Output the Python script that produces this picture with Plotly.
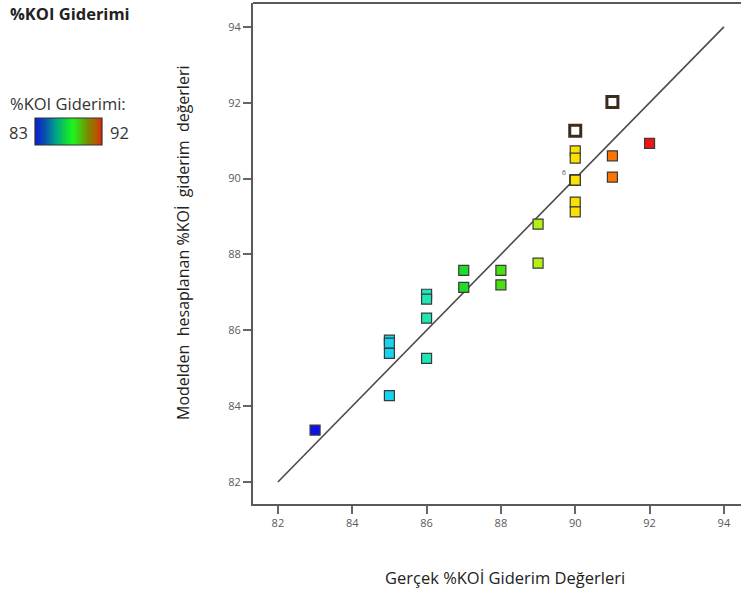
import plotly.graph_objects as go

# ---- data ----
actual = [83,
          85, 85, 85, 85,
          86, 86, 86, 86,
          87, 87,
          88, 88,
          89, 89,
          90, 90, 90, 90, 90, 90, 90, 90, 90, 90,
          91, 91,
          92]
predicted = [83.37,
             85.74, 85.66, 85.39, 84.28,
             86.95, 86.82, 86.32, 85.26,
             87.58, 87.13,
             87.58, 87.20,
             88.80, 87.77,
             90.73, 90.54, 89.96, 89.96, 89.96, 89.96, 89.96, 89.96, 89.38, 89.12,
             90.60, 90.04,
             90.93]
color_levels = [83, 85, 86, 87, 88, 89, 90, 91, 92]
level_colors = ["#0a14e6", "#14d4f0", "#1ee6b4", "#1edc28", "#46e014",
                "#b4f014", "#fae100", "#ff7300", "#f01414"]

open_actual = [90, 91]
open_predicted = [91.26, 92.02]

ref_line = [82, 94]
x_ticks = [82, 84, 86, 88, 90, 92, 94]
y_ticks = [82, 84, 86, 88, 90, 92, 94]
cbar_min, cbar_max = 83, 92
cbar_levels = [83, 84, 85, 86, 87, 88, 89, 90, 91, 92]

replicate_x, replicate_y, replicate_label = 90, 89.96, "6"

# ---- figure ----
W, H = 741, 595
font = "Open Sans, Noto Sans, sans-serif"


def px_x(p):
    return p / W


def px_y(p):
    return 1 - p / H


cmap = dict(zip(color_levels, level_colors))
colors = [cmap[a] for a in actual]

fig = go.Figure()
fig.add_trace(go.Scatter(x=ref_line, y=ref_line, mode="lines",
                         line=dict(color="#4a4a4a", width=1.6),
                         hoverinfo="skip", showlegend=False))
fig.add_trace(go.Scatter(x=actual, y=predicted, mode="markers",
                         marker=dict(symbol="square", size=10, color=colors,
                                     line=dict(color="#3a3a3a", width=1.2)),
                         showlegend=False))
fig.add_trace(go.Scatter(x=open_actual, y=open_predicted, mode="markers",
                         marker=dict(symbol="square-open", size=11,
                                     color="#3b2c1e",
                                     line=dict(color="#3b2c1e", width=3)),
                         showlegend=False))
# colour bar drawn as a smooth heatmap on its own small axes
fig.add_trace(go.Heatmap(z=[cbar_levels], x=list(range(len(cbar_levels))), y=[0],
                         zmin=cbar_min, zmax=cbar_max, zsmooth="best", showscale=False,
                         colorscale=[[0.0, "#0a1ed2"], [0.12, "#0a46b4"],
                                     [0.3, "#00a08c"], [0.5, "#14e628"],
                                     [0.56, "#1ef51e"], [0.78, "#788c00"],
                                     [0.9, "#b45a00"], [1.0, "#e61e0a"]],
                         xaxis="x2", yaxis="y2", hoverinfo="skip"))

axis_common = dict(ticks="outside", ticklen=8, tickcolor="#666666", tickwidth=1.5,
                   showline=True, linecolor="#5a5a5a", linewidth=2, showgrid=False,
                   zeroline=False, automargin=False,
                   tickfont=dict(size=11, color="#5a5a5a", family=font))

fig.update_layout(
    width=W, height=H,
    margin=dict(l=0, r=0, t=0, b=0),
    paper_bgcolor="white", plot_bgcolor="white",
    font=dict(family=font, color="#333333"),
    xaxis=dict(range=[81.33, 94.46], tickvals=x_ticks,
               domain=[px_x(253), 1], **axis_common),
    yaxis=dict(range=[81.42, 94.63], tickvals=y_ticks,
               domain=[px_y(504), px_y(3)], **axis_common),
    xaxis2=dict(domain=[px_x(35), px_x(102)], range=[0, len(cbar_levels) - 1],
                visible=False, anchor="y2", fixedrange=True),
    yaxis2=dict(domain=[px_y(145), px_y(118)], range=[-0.5, 0.5],
                visible=False, anchor="x2", fixedrange=True),
    shapes=[dict(type="line", xref="paper", yref="paper", x0=px_x(253), x1=1,
                 y0=px_y(3), y1=px_y(3), line=dict(color="#5a5a5a", width=2)),
            dict(type="rect", xref="paper", yref="paper", x0=px_x(35), x1=px_x(102),
                 y0=px_y(145), y1=px_y(118), line=dict(color="#333333", width=1.2))],
)


def txt(text, x, y, size, xanchor="left", color="#333333", angle=0):
    return dict(text=text, xref="paper", yref="paper", x=px_x(x), y=px_y(y),
                xanchor=xanchor, yanchor="middle", textangle=angle, showarrow=False,
                font=dict(size=size, color=color, family=font))


ann = [
    txt("<b>%KOI Giderimi</b>", 8, 13, 16.5, color="#222222"),
    txt("%KOI Giderimi:", 8, 103, 16.5),
    txt(str(cbar_min), 7, 132, 16.5),
    txt(str(cbar_max), 108, 132, 16.5),
    txt("Gerçek %KOİ Giderim Değerleri", 505, 577, 16.5, xanchor="center", color="#222222"),
    txt("Modelden\u00a0 hesaplanan %KOİ\u00a0 giderim\u00a0 değerleri", 183, 243, 16,
        xanchor="center", color="#222222", angle=-90),
    dict(text=replicate_label, x=replicate_x, y=replicate_y, xref="x", yref="y",
         xanchor="right", yanchor="bottom", xshift=-7, yshift=1, showarrow=False,
         font=dict(size=7, color="#555555", family=font)),
]
fig.update_layout(annotations=ann)

fig.write_html("out.html")
